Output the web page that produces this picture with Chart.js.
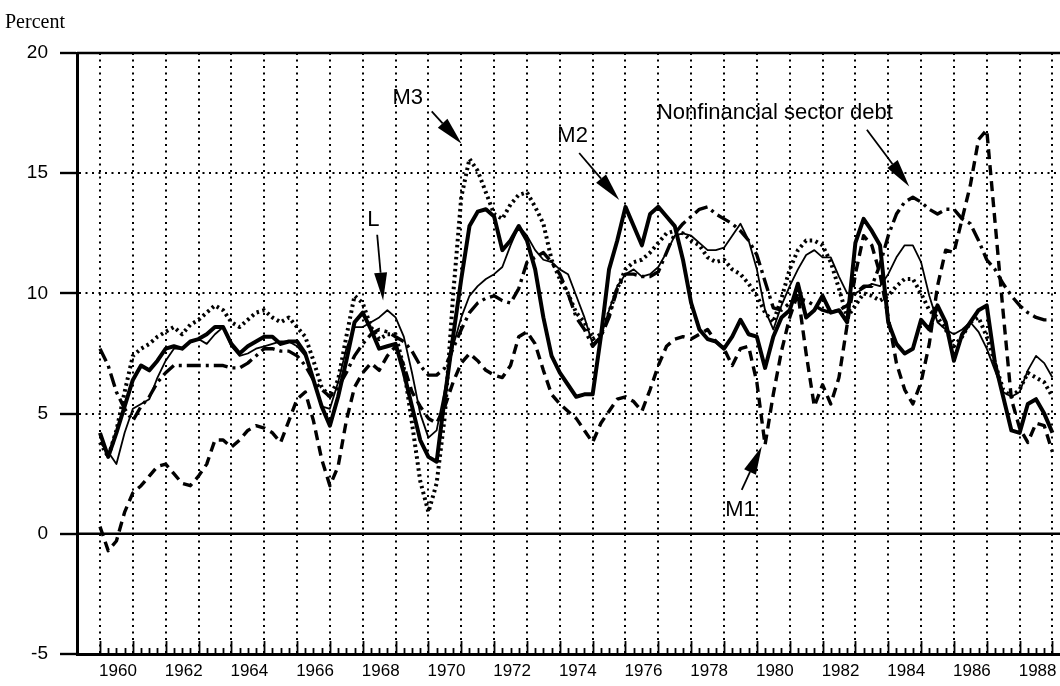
<!DOCTYPE html>
<html>
<head>
<meta charset="utf-8">
<script src="https://cdn.jsdelivr.net/npm/chart.js@4.4.0/dist/chart.umd.min.js"></script>
<style>
    body { margin: 0; background: #fff; }
    #wrap { width: 1060px; height: 686px; position: relative; }
</style>
</head>
<body>
<div id="wrap"><canvas id="myChart"></canvas></div>

<script>
    // quarterly growth rates, 1960Q1 .. 1989Q1 (one row per year)
    var m1 = [
        0.3, -0.7, -0.3, 0.9,
        1.7, 2.0, 2.4, 2.8,
        2.9, 2.5, 2.1, 2.0,
        2.4, 2.9, 3.9, 3.9,
        3.6, 3.9, 4.3, 4.5,
        4.4, 4.2, 3.8, 4.7,
        5.6, 5.9, 4.7, 3.1,
        2.0, 2.8, 4.7, 6.1,
        6.7, 7.1, 6.8, 7.4,
        7.8, 7.0, 5.9, 5.3,
        4.8, 4.6, 5.3, 6.3,
        7.1, 7.5, 7.2, 6.8,
        6.6, 6.5, 7.0, 8.2,
        8.4, 7.9, 6.8, 5.8,
        5.4, 5.1, 4.8, 4.3,
        3.8, 4.6, 5.1, 5.6,
        5.7, 5.5, 5.1, 6.0,
        7.0, 7.8, 8.1, 8.2,
        8.1, 8.3, 8.5, 8.0,
        7.7, 7.0, 7.7, 7.8,
        6.3, 3.7, 5.8, 7.6,
        9.0, 10.0, 7.5, 5.3,
        6.2, 5.4, 6.5, 8.7,
        10.8, 12.4, 12.0, 10.8,
        9.0, 7.1, 6.0, 5.4,
        6.3, 7.9, 10.3, 11.8,
        11.7, 13.1, 14.5, 16.4,
        16.8, 13.0, 9.2, 5.6,
        4.4, 3.8, 4.6, 4.5,
        3.4
    ];
    var m2 = [
        4.2, 3.2, 4.2, 5.3,
        6.4, 7.0, 6.8, 7.2,
        7.7, 7.8, 7.7, 8.0,
        8.1, 8.3, 8.6, 8.6,
        7.9, 7.5, 7.8, 8.0,
        8.2, 8.2, 7.9, 8.0,
        8.0, 7.5, 6.4, 5.3,
        4.5, 5.7, 7.2, 8.8,
        9.2, 8.5, 7.7, 7.8,
        7.9, 6.7, 5.3, 3.9,
        3.2, 3.0, 5.7, 8.2,
        10.6, 12.8, 13.4, 13.5,
        13.2, 11.8, 12.2, 12.8,
        12.2, 11.0, 9.0, 7.4,
        6.7, 6.2, 5.7, 5.8,
        5.8, 8.2, 11.0, 12.2,
        13.6, 12.8, 12.0, 13.3,
        13.6, 13.2, 12.8, 11.4,
        9.6, 8.5, 8.1, 8.0,
        7.7, 8.2, 8.9, 8.3,
        8.2, 6.9, 8.2, 9.0,
        9.3, 10.4, 9.0, 9.3,
        9.9, 9.2, 9.3, 8.8,
        12.1, 13.1, 12.6, 12.0,
        8.8, 7.9, 7.5, 7.7,
        8.9, 8.5, 9.5, 8.8,
        7.2, 8.3, 8.8, 9.3,
        9.5, 7.1, 5.7, 4.3,
        4.2, 5.4, 5.6, 5.0,
        4.2
    ];
    var m3 = [
        3.8, 3.2, 4.3, 5.9,
        7.4, 7.7, 7.9, 8.2,
        8.4, 8.6, 8.3, 8.7,
        8.9, 9.2, 9.5, 9.3,
        8.8, 8.6, 8.9, 9.2,
        9.3, 9.0, 8.8, 9.0,
        8.6, 8.2, 7.2, 6.1,
        5.7, 6.4, 8.2, 9.9,
        9.6, 8.6, 8.1, 8.3,
        8.3, 6.9, 4.6, 2.2,
        0.9, 2.1, 4.9, 9.9,
        14.0, 15.6, 15.1, 14.2,
        13.3, 13.1, 13.7, 14.1,
        14.2, 13.6, 12.9, 11.4,
        10.6, 10.0, 9.2, 8.8,
        8.1, 8.3, 9.2, 10.2,
        11.0, 11.3, 11.4, 11.7,
        12.1, 12.5, 12.6, 12.5,
        12.2, 12.0, 11.5, 11.3,
        11.4, 11.0, 10.8, 10.4,
        9.9, 9.2, 8.8, 9.8,
        11.0, 11.8, 12.2, 12.2,
        12.0, 11.3, 10.2, 9.0,
        9.5, 10.0, 9.9, 9.7,
        9.9, 10.3, 10.6, 10.6,
        10.0, 9.3, 9.0, 8.5,
        7.8, 8.2, 8.8, 9.0,
        8.2, 7.1, 6.0, 5.7,
        6.0, 6.7, 6.5, 6.3,
        5.7
    ];
    var bigL = [
        3.8, 3.4, 2.9, 4.2,
        5.2, 5.4, 5.6, 6.5,
        7.2, 7.7, 7.7, 8.0,
        8.1, 7.9, 8.3, 8.6,
        7.8, 7.4, 7.5, 7.7,
        7.8, 7.9, 8.0, 8.0,
        7.8, 7.4, 6.4, 5.3,
        5.2, 6.3, 7.7, 8.6,
        8.6, 8.8, 9.0, 9.3,
        9.0, 8.2, 6.7, 5.0,
        4.0, 4.3, 6.0, 7.8,
        9.0, 9.9, 10.3, 10.6,
        10.8, 11.1, 12.0, 12.8,
        12.4, 11.8, 11.4, 11.3,
        11.0, 10.8, 9.9, 9.0,
        7.9, 8.2, 9.3, 10.3,
        10.8, 11.0, 10.7, 10.8,
        11.1, 11.7, 12.4, 12.5,
        12.4, 12.1, 11.8, 11.8,
        11.9, 12.4, 12.9, 12.2,
        11.0, 9.3, 8.5, 9.5,
        10.3, 11.0, 11.6, 11.8,
        11.5, 11.5, 10.7, 10.0,
        10.0, 10.2, 10.4, 10.3,
        10.8, 11.5, 12.0, 12.0,
        11.3, 9.9, 8.8, 8.5,
        8.3, 8.5, 8.8, 8.4,
        7.7, 6.8, 5.9, 5.7,
        5.9, 6.8, 7.4, 7.1,
        6.5
    ];
    var debt = [
        7.7, 7.0, 5.9, 5.2,
        4.7, 5.3, 5.7, 6.3,
        6.7, 7.0, 7.0, 7.0,
        7.0, 7.0, 7.0, 7.0,
        6.9, 6.9, 7.1, 7.4,
        7.7, 7.7, 7.6, 7.6,
        7.4, 7.0, 6.4, 6.0,
        5.7, 6.1, 6.7, 7.4,
        7.9, 8.3, 8.5, 8.4,
        8.2, 8.0, 7.6, 7.0,
        6.6, 6.6, 6.9, 7.7,
        8.5, 9.2, 9.6, 9.8,
        9.9, 9.7, 9.6, 10.2,
        11.3, 11.5, 11.7, 11.3,
        10.8, 10.0, 9.0, 8.5,
        7.8, 8.2, 9.0, 10.2,
        10.8, 10.8, 10.7, 10.7,
        10.9, 11.7, 12.5, 12.9,
        13.2, 13.5, 13.6, 13.3,
        13.1, 12.9, 12.6, 12.2,
        11.6, 10.5, 9.4, 9.3,
        9.6, 9.8, 9.7, 9.5,
        9.3, 9.2, 9.3, 9.5,
        10.0, 10.3, 10.3, 11.2,
        12.4, 13.3, 13.8, 14.0,
        13.8, 13.5, 13.3, 13.5,
        13.5, 13.1, 12.9, 12.2,
        11.4, 11.0, 10.4, 9.9,
        9.5, 9.2, 9.0, 8.9,
        8.9
    ];

    var yTicks = [-5, 0, 5, 10, 15, 20];
    var yearTicks = [1960, 1961, 1962, 1963, 1964, 1965, 1966, 1967, 1968, 1969, 1970, 1971, 1972, 1973, 1974,
        1975, 1976, 1977, 1978, 1979, 1980, 1981, 1982, 1983, 1984, 1985, 1986, 1987, 1988, 1989];
    var yearLabels = [1960, 1962, 1964, 1966, 1968, 1970, 1972, 1974, 1976, 1978, 1980, 1982, 1984, 1986, 1988];

    var quarters = [];
    for (var i = 0; i < m2.length; i++) quarters.push(1960 + i / 4);

    // callouts: label position and arrow, in chart units (year, percent)
    var notes = [
        { text: "M3", x: 1969.37, y: 18.14, from: [1970.10, 17.57], to: [1971.01, 16.22] },
        { text: "M2", x: 1974.39, y: 16.53, from: [1974.59, 15.84], to: [1975.81, 13.89] },
        { text: "Nonfinancial sector debt", x: 1980.55, y: 17.51, from: [1983.35, 16.81], to: [1984.64, 14.45] },
        { text: "L", x: 1968.32, y: 13.06, from: [1968.44, 12.44], to: [1968.62, 9.70] },
        { text: "M1", x: 1979.50, y: 1.00, from: [1979.54, 1.83], to: [1980.15, 3.63] }
    ];

    function pts(arr) {
        return arr.map(function (v, i) { return { x: quarters[i], y: v }; });
    }

    function arrow(ctx, x1, y1, x2, y2) {
        var a = Math.atan2(y2 - y1, x2 - x1), len = 28, w = 6.5;
        var bx = x2 - len * Math.cos(a), by = y2 - len * Math.sin(a);
        ctx.beginPath();
        ctx.moveTo(x1, y1);
        ctx.lineTo(bx, by);
        ctx.stroke();
        ctx.beginPath();
        ctx.moveTo(x2, y2);
        ctx.lineTo(bx + w * Math.sin(a), by - w * Math.cos(a));
        ctx.lineTo(bx - w * Math.sin(a), by + w * Math.cos(a));
        ctx.closePath();
        ctx.fill();
    }

    var extras = {
        id: 'extras',
        beforeDatasetsDraw: function (chart) {
            var ctx = chart.ctx, area = chart.chartArea, ys = chart.scales.y;
            ctx.save();
            ctx.strokeStyle = '#000';
            ctx.lineWidth = 2.4;
            ctx.beginPath();
            ctx.moveTo(area.left, ys.getPixelForValue(0));
            ctx.lineTo(area.right, ys.getPixelForValue(0));
            ctx.moveTo(area.left, area.top);
            ctx.lineTo(area.right, area.top);
            ctx.stroke();
            ctx.restore();
        },
        afterDraw: function (chart) {
            var ctx = chart.ctx, area = chart.chartArea, xs = chart.scales.x, ys = chart.scales.y;
            ctx.save();
            // quarter ticks along the bottom axis
            ctx.strokeStyle = '#000';
            ctx.lineWidth = 1.8;
            ctx.beginPath();
            quarters.forEach(function (q) {
                var px = Math.round(xs.getPixelForValue(q)) + 0.5;
                var h = (q % 1 === 0) ? 13 : 6;
                ctx.moveTo(px, area.bottom);
                ctx.lineTo(px, area.bottom - h);
            });
            ctx.stroke();

            // callouts
            ctx.fillStyle = '#000';
            ctx.lineWidth = 1.8;
            ctx.font = '22px "Liberation Sans", Arial, sans-serif';
            ctx.textAlign = 'center';
            ctx.textBaseline = 'middle';
            notes.forEach(function (n) {
                ctx.fillText(n.text, xs.getPixelForValue(n.x), ys.getPixelForValue(n.y));
                arrow(ctx, xs.getPixelForValue(n.from[0]), ys.getPixelForValue(n.from[1]),
                    xs.getPixelForValue(n.to[0]), ys.getPixelForValue(n.to[1]));
            });

            ctx.font = '20px "Liberation Serif", "Times New Roman", serif';
            ctx.textAlign = 'left';
            ctx.textBaseline = 'alphabetic';
            ctx.fillText('Percent', 5, 28);
            ctx.restore();
        }
    };

    var sans = '"Liberation Sans", Arial, sans-serif';

    new Chart("myChart", {
        type: "line",
        data: {
            datasets: [
                { label: "M1", data: pts(m1), borderColor: '#000', borderWidth: 3.4, borderDash: [10, 6] },
                { label: "Nonfinancial sector debt", data: pts(debt), borderColor: '#000', borderWidth: 3.4, borderDash: [14, 5, 3, 5] },
                { label: "M3", data: pts(m3), borderColor: '#000', borderWidth: 4, borderDash: [2.5, 3.5] },
                { label: "L", data: pts(bigL), borderColor: '#000', borderWidth: 1.8 },
                { label: "M2", data: pts(m2), borderColor: '#000', borderWidth: 4 }
            ]
        },
        options: {
            responsive: true,
            maintainAspectRatio: false,
            animation: false,
            devicePixelRatio: 1,
            layout: { padding: { top: 53, right: 0, bottom: 0, left: 0 } },
            elements: {
                point: { radius: 0 },
                line: { tension: 0, fill: false, borderCapStyle: 'butt', borderJoinStyle: 'round' }
            },
            plugins: {
                legend: { display: false },
                tooltip: { enabled: false }
            },
            scales: {
                x: {
                    type: 'linear',
                    min: 1959.3,
                    max: 1989.23,
                    afterBuildTicks: function (s) { s.ticks = yearTicks.map(function (v) { return { value: v }; }); },
                    afterFit: function (s) { s.height = 32; },
                    grid: { color: '#000', lineWidth: 2, drawTicks: false },
                    border: { color: '#000', width: 3, dash: [2, 4.5] },
                    ticks: {
                        color: '#000', font: { family: sans, size: 17 }, padding: 7, labelOffset: 18,
                        maxRotation: 0, autoSkip: false,
                        callback: function (v) { return yearLabels.indexOf(v) >= 0 ? String(v) : ''; }
                    }
                },
                y: {
                    min: -5,
                    max: 20,
                    afterBuildTicks: function (s) { s.ticks = yTicks.map(function (v) { return { value: v }; }); },
                    afterFit: function (s) { s.width = 77; },
                    grid: { color: '#000', lineWidth: 2, tickLength: 17, tickColor: '#000', tickWidth: 2.4 },
                    border: { color: '#000', width: 3, dash: [2, 4.5] },
                    ticks: { color: '#000', font: { family: sans, size: 19 }, padding: 12 }
                }
            }
        },
        plugins: [extras]
    });
</script>
</body>
</html>
